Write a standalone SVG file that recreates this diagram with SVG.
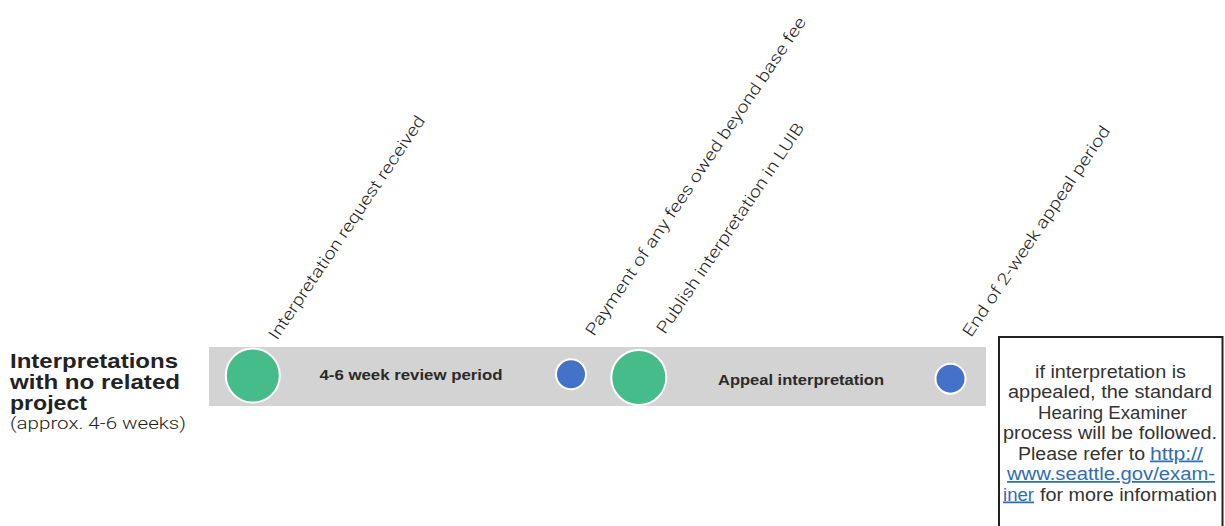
<svg xmlns="http://www.w3.org/2000/svg" width="1225" height="526" viewBox="0 0 1225 526">
  <style>
    .title { font-family: "Liberation Sans", Arial, sans-serif; font-weight: bold; font-size: 21px; fill: #222; }
    .sub { font-family: Roboto, "Liberation Sans", sans-serif; font-weight: 300; font-size: 17px; fill: #222; }
    .lbl { font-family: Roboto, "Liberation Sans", sans-serif; font-weight: 300; font-size: 16.5px; fill: #222; }
    .period { font-family: "Liberation Sans", Arial, sans-serif; font-weight: bold; font-size: 15.5px; fill: #2a2a2a; text-anchor: middle; }
    .note { font-family: "Liberation Sans", Arial, sans-serif; font-size: 17.5px; fill: #333; }
    .link { fill: #2f6db5; text-decoration: underline; }
    .green { fill: #45bc8a; stroke: #ffffff; stroke-width: 2; }
    .blue { fill: #4472c8; stroke: #ffffff; stroke-width: 2; }
  </style>
  <rect width="1225" height="526" fill="#ffffff"/>

  <g id="row-title">
    <text class="title" x="10" y="367.5" textLength="168" lengthAdjust="spacingAndGlyphs">Interpretations</text>
    <text class="title" x="10" y="388.5" textLength="170" lengthAdjust="spacingAndGlyphs">with no related</text>
    <text class="title" x="10" y="410" textLength="77" lengthAdjust="spacingAndGlyphs">project</text>
    <text class="sub" x="10" y="429" textLength="176" lengthAdjust="spacingAndGlyphs">(approx. 4-6 weeks)</text>
  </g>

  <g id="connectors">
    <rect id="timeline-bar" x="209" y="347" width="777" height="59" fill="#d3d3d3"/>
    <text class="period" x="411" y="379.5" textLength="183" lengthAdjust="spacingAndGlyphs">4-6 week review period</text>
    <text class="period" x="801" y="384.5" textLength="166" lengthAdjust="spacingAndGlyphs">Appeal interpretation</text>
  </g>

  <g id="node-request-received">
    <circle class="green" cx="252.8" cy="375.5" r="27"/>
    <text class="lbl" transform="translate(277,341) rotate(-56)" textLength="266" lengthAdjust="spacingAndGlyphs">Interpretation request received</text>
  </g>

  <g id="node-payment">
    <circle class="blue" cx="571" cy="374.3" r="15"/>
    <text class="lbl" transform="translate(594,337) rotate(-56)" textLength="380" lengthAdjust="spacingAndGlyphs">Payment of any fees owed beyond base fee</text>
  </g>

  <g id="node-publish">
    <circle class="green" cx="638.8" cy="377.5" r="27.5"/>
    <text class="lbl" transform="translate(665,335) rotate(-56)" textLength="250" lengthAdjust="spacingAndGlyphs">Publish interpretation in LUIB</text>
  </g>

  <g id="node-appeal-end">
    <circle class="blue" cx="950.5" cy="378.7" r="15"/>
    <text class="lbl" transform="translate(971,338) rotate(-56)" textLength="250" lengthAdjust="spacingAndGlyphs">End of 2-week appeal period</text>
  </g>

  <g id="node-appeal-note">
    <rect x="999" y="337" width="223.5" height="200" fill="#ffffff" stroke="#222" stroke-width="2"/>
    <text class="note" x="1110.5" y="377.5" text-anchor="middle" textLength="151" lengthAdjust="spacingAndGlyphs">if interpretation is</text>
    <text class="note" x="1110" y="398" text-anchor="middle" textLength="204" lengthAdjust="spacingAndGlyphs">appealed, the standard</text>
    <text class="note" x="1112.5" y="418.5" text-anchor="middle" textLength="149" lengthAdjust="spacingAndGlyphs">Hearing Examiner</text>
    <text class="note" x="1110" y="439" text-anchor="middle" textLength="214" lengthAdjust="spacingAndGlyphs">process will be followed.</text>
    <text class="note" x="1018" y="459.5" textLength="127" lengthAdjust="spacingAndGlyphs">Please refer to</text>
    <text class="note link" x="1150" y="459.5" textLength="53" lengthAdjust="spacingAndGlyphs">http://</text>
    <text class="note link" x="1007" y="480" textLength="208" lengthAdjust="spacingAndGlyphs">www.seattle.gov/exam-</text>
    <text class="note link" x="1003" y="500.5" textLength="31" lengthAdjust="spacingAndGlyphs">iner</text>
    <text class="note" x="1040" y="500.5" textLength="177" lengthAdjust="spacingAndGlyphs">for more information</text>
  </g>
</svg>
